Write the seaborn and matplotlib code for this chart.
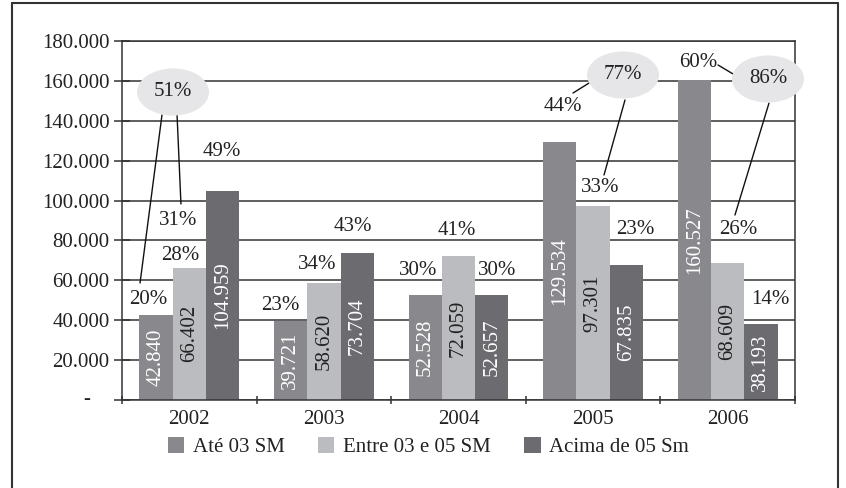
import matplotlib
matplotlib.use("Agg")
import matplotlib.pyplot as plt
import matplotlib.transforms as mtransforms
from matplotlib.patches import Ellipse, Patch
from matplotlib.lines import Line2D
from matplotlib.ticker import FuncFormatter, FixedLocator
import seaborn as sns
import pandas as pd

# ---------------- data ----------------
years = ["2002", "2003", "2004", "2005", "2006"]
series = ["Até 03 SM", "Entre 03 e 05 SM", "Acima de 05 Sm"]
ate_03 = [42840, 39721, 52528, 129534, 160527]
entre_03_05 = [66402, 58620, 72059, 97301, 68609]
acima_05 = [104959, 73704, 52657, 67835, 38193]

pct_labels = ["20%", "28%", "31%", "49%",
              "23%", "34%", "43%",
              "30%", "41%", "30%",
              "44%", "33%", "23%",
              "60%", "26%", "14%"]
bubble_labels = ["51%", "77%", "86%"]

# ---------------- layout of annotations (data coords) ----------------
pct_x = [-0.307, -0.069, -0.084, 0.243,
         0.674, 0.949, 1.216,
         1.699, 1.989, 2.286,
         2.776, 3.051, 3.311,
         3.779, 4.077, 4.314]
pct_y = [50140, 72700, 89750, 124350,
         47630, 67690, 87240,
         65180, 84740, 65180,
         146910, 106300, 85240,
         169470, 85240, 50140]
bubble_x = [-0.121, 3.222, 4.299]
bubble_y = [154430, 162955, 160950]
leader_lines = [((-0.203, 142900), (-0.366, 58660)),
                ((-0.091, 142900), (-0.062, 98270)),
                ((2.851, 153930), (2.970, 158940)),
                ((3.237, 150420), (3.081, 112815)),
                ((3.928, 167970), (4.040, 163460)),
                ((4.307, 148920), (4.054, 92760))]

colors = ["#89898d", "#bbbcc0", "#6b6b70"]
label_colors = ["white", "#222222", "white"]
ink = "#222222"

sns.set_style("white")
plt.rcParams["font.family"] = ["Liberation Serif", "DejaVu Serif"]
FS = 15

df = pd.DataFrame({
    "ano": years * 3,
    "valor": ate_03 + entre_03_05 + acima_05,
    "faixa": [series[0]] * 5 + [series[1]] * 5 + [series[2]] * 5,
})

fig = plt.figure(figsize=(8.46, 4.88), dpi=100)
ax = fig.add_axes([122 / 846, 1 - 400 / 488, (795 - 122) / 846, (400 - 41) / 488])

sns.barplot(data=df, x="ano", y="valor", hue="faixa", hue_order=series,
            palette=colors, width=0.74, saturation=1, linewidth=0,
            legend=False, ax=ax, errorbar=None)

ax.set_xlim(-0.5, 4.5)
ax.set_ylim(0, 180000)
ax.set_xlabel("")
ax.set_ylabel("")

# grid
ax.set_axisbelow(True)
ax.yaxis.grid(True, color="#333333", linewidth=1.1)
ax.xaxis.grid(False)
for side in ["left", "bottom", "right", "top"]:
    ax.spines[side].set_visible(True)
    ax.spines[side].set_color("#333333")
    ax.spines[side].set_linewidth(1.1)

# y ticks
ax.set_yticks(range(0, 180001, 20000))
ax.yaxis.set_major_formatter(FuncFormatter(
    lambda v, p: "" if v == 0 else f"{int(v):,}".replace(",", ".")))
ax.tick_params(axis="y", which="major", direction="inout", length=12,
               width=1.1, color="#333333", pad=3, labelsize=FS, labelcolor=ink,
               left=True)
ax.text(-0.052, 0, "-", transform=mtransforms.blended_transform_factory(ax.transAxes, ax.transData),
        ha="center", va="center", fontsize=FS, color=ink)

# x ticks
ax.tick_params(axis="x", which="major", length=0, pad=7, labelsize=FS, labelcolor=ink)
ax.xaxis.set_minor_locator(FixedLocator([-0.5, 0.5, 1.5, 2.5, 3.5, 4.5]))
ax.tick_params(axis="x", which="minor", direction="inout", length=6, width=1.1,
               color="#333333", bottom=True)

# values inside bars
for cont, lc in zip(ax.containers, label_colors):
    vals = [f"{int(b.get_height()):,}".replace(",", ".") for b in cont]
    ax.bar_label(cont, labels=vals, label_type="center", rotation=90,
                 fontsize=FS, color=lc)

# percentage labels
for t, x, y in zip(pct_labels, pct_x, pct_y):
    ax.text(x, y, t, ha="center", va="center", fontsize=FS, color=ink)

# leader lines
for (x0, y0), (x1, y1) in leader_lines:
    ax.plot([x0, x1], [y0, y1], color="#111111", lw=1.0, zorder=5, clip_on=False)

# bubbles
for t, x, y in zip(bubble_labels, bubble_x, bubble_y):
    ax.add_patch(Ellipse((x, y), width=0.535, height=23600, facecolor="#e6e6e8",
                         edgecolor="none", zorder=6, clip_on=False))
    ax.text(x, y, t, ha="center", va="center", fontsize=FS, color=ink, zorder=7)

# legend
handles = [Patch(facecolor=c, edgecolor="none") for c in colors]
fig.legend(handles, series, loc="center left", bbox_to_anchor=(168 / 846, 1 - 447 / 488),
           ncol=3, frameon=False, fontsize=FS, handlelength=0.78, handleheight=0.78,
           handletextpad=0.42, columnspacing=1.6, borderpad=0, borderaxespad=0,
           labelcolor=ink)

# outer frame (top, left, right)
frame_kw = dict(color="#333333", lw=1.5, transform=fig.transFigure)
fig.add_artist(Line2D([12 / 846, 838 / 846], [1 - 3 / 488, 1 - 3 / 488], **frame_kw))
fig.add_artist(Line2D([12 / 846, 12 / 846], [0, 1 - 3 / 488], **frame_kw))
fig.add_artist(Line2D([838 / 846, 838 / 846], [0, 1 - 3 / 488], **frame_kw))

fig.savefig("out.png", dpi=100)
